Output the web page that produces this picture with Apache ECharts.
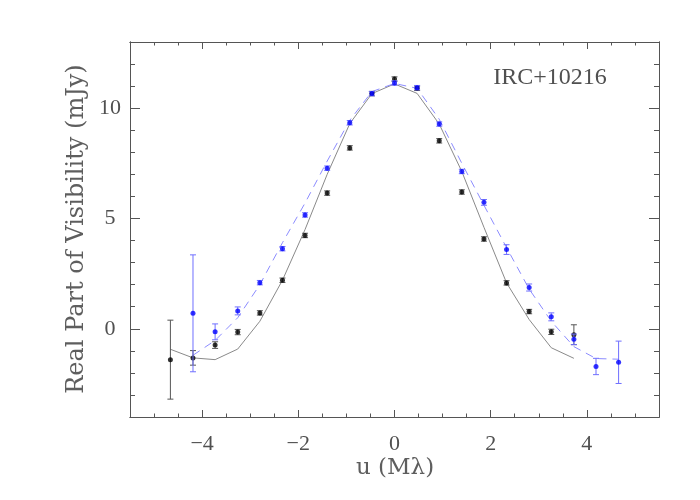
<!DOCTYPE html>
<html><head><meta charset="utf-8">
<script src="https://cdn.jsdelivr.net/npm/echarts@6/dist/echarts.min.js"></script>
<style>html,body{margin:0;padding:0;background:#fff}#c{width:700px;height:500px}</style>
</head><body><div id="c"></div>
<script>
// ---- data ----
const uBlack = [-4.66,-4.19,-3.73,-3.26,-2.80,-2.33,-1.86,-1.40,-0.93,-0.47,0,0.47,0.93,1.40,1.86,2.33,2.80,3.26,3.73];
const vBlack = [-1.40,-1.32,-0.74,-0.15,0.72,2.20,4.23,6.15,8.20,10.66,11.32,10.90,8.52,6.20,4.07,2.08,0.78,-0.14,-0.27];
const eBlack = [1.79,0.33,0.15,0.12,0.10,0.10,0.10,0.10,0.10,0.10,0.10,0.10,0.10,0.10,0.10,0.10,0.10,0.12,0.45];

const uBlue = [-4.19,-3.73,-3.26,-2.80,-2.33,-1.86,-1.40,-0.93,-0.47,0,0.47,0.93,1.40,1.86,2.33,2.80,3.26,3.73,4.19,4.66];
const vBlue = [0.70,-0.14,0.81,2.09,3.63,5.16,7.28,9.34,10.66,11.14,10.93,9.28,7.13,5.73,3.59,1.87,0.54,-0.48,-1.71,-1.52];
const eBlue = [2.65,0.36,0.18,0.10,0.10,0.10,0.10,0.10,0.10,0.10,0.10,0.10,0.10,0.13,0.22,0.16,0.18,0.24,0.37,0.96];

const uModelSolid = [-4.66,-4.19,-3.73,-3.26,-2.80,-2.33,-1.86,-1.40,-0.93,-0.47,0,0.47,0.93,1.40,1.86,2.33,2.80,3.26,3.73];
const vModelSolid = [-0.93,-1.32,-1.40,-0.92,0.34,2.20,4.50,7.00,9.30,10.66,11.10,10.67,9.28,7.13,4.60,2.08,0.42,-0.86,-1.34];

const uModelDash = [-4.19,-3.73,-3.26,-2.80,-2.33,-1.86,-1.40,-0.93,-0.47,0,0.47,0.93,1.40,1.86,2.33,2.80,3.26,3.73,4.19,4.66];
const vModelDash = [-1.20,-0.53,0.50,2.00,3.90,5.70,7.60,9.45,10.75,11.12,10.90,9.50,7.50,5.60,3.68,1.80,0.34,-0.81,-1.35,-1.38];

const xMajorTicks = [-4,-2,0,2,4];
const xMinorTicks = [-5,-4.5,-3.5,-3,-2.5,-1.5,-1,-0.5,0.5,1,1.5,2.5,3,3.5,4.5,5];
const yMajorTicks = [0,5,10];
const yMinorTicks = [-3,-2,-1,1,2,3,4,6,7,8,9,11,12];
const sourceLabel = 'IRC+10216';
const xTitle = 'u (M\u03bb)';
const yTitle = 'Real Part of Visibility (mJy)';

// ---- chart ----
const TICKFONT = '"Liberation Serif", serif';
const TITLEFONT = '"DejaVu Serif", serif';
const TXT = '#505050';
const TITLECOL = '#5e5e5e';
const AX = '#555';
const fmt = v => v < 0 ? '\u2212' + Math.abs(v) : String(v);
function pair(arrU, arrV){ return arrU.map((u,i)=>[u, arrV[i]]); }
function errData(arrU, arrV, arrE){ return arrU.map((u,i)=>[u, arrV[i]-arrE[i], arrV[i]+arrE[i]]); }
function errRender(color){
  return function(params, api){
    const x = api.value(0);
    const lo = api.coord([x, api.value(1)]);
    const hi = api.coord([x, api.value(2)]);
    const w = 3;
    const st = {stroke: color, lineWidth: 1};
    return {type:'group', children:[
      {type:'line', shape:{x1:lo[0],y1:lo[1],x2:hi[0],y2:hi[1]}, style:st},
      {type:'line', shape:{x1:lo[0]-w,y1:lo[1],x2:lo[0]+w,y2:lo[1]}, style:st},
      {type:'line', shape:{x1:hi[0]-w,y1:hi[1],x2:hi[0]+w,y2:hi[1]}, style:st}
    ]};
  };
}
function xAx(pos, ticks, len, labels){
  return {type:'value', min:-5.5, max:5.5, position:pos,
    axisLine:{show:true, onZero:false, lineStyle:{color:AX, width:1}},
    axisTick:{show:true, inside:true, length:len, customValues:ticks, lineStyle:{color:AX}},
    axisLabel: labels ? {show:true, customValues:ticks, formatter:fmt, color:TXT, fontSize:22, fontFamily:TICKFONT, margin:16} : {show:false},
    splitLine:{show:false}};
}
function yAx(pos, ticks, len, labels){
  return {type:'value', min:-4, max:13, position:pos,
    axisLine:{show:true, onZero:false, lineStyle:{color:AX, width:1}},
    axisTick:{show:true, inside:true, length:len, customValues:ticks, lineStyle:{color:AX}},
    axisLabel: labels ? {show:true, customValues:ticks, formatter:fmt, color:TXT, fontSize:22, fontFamily:TICKFONT, margin:20, align:'center'} : {show:false},
    splitLine:{show:false}};
}
const chart = echarts.init(document.getElementById('c'), null, {renderer:'canvas'});
chart.setOption({
  animation:false,
  backgroundColor:'#fff',
  grid:{left:130, right:41, top:42, bottom:83, containLabel:false},
  xAxis:[ xAx('bottom', xMajorTicks, 7, true), xAx('bottom', xMinorTicks, 3.5, false),
          xAx('top', xMajorTicks, 7, false), xAx('top', xMinorTicks, 3.5, false) ],
  yAxis:[ yAx('left', yMajorTicks, 10, true), yAx('left', yMinorTicks, 5, false),
          yAx('right', yMajorTicks, 10, false), yAx('right', yMinorTicks, 5, false) ],
  graphic:[
    {type:'text', x:550, y:78, style:{text:sourceLabel, fill:TXT, font:'24px '+TICKFONT, textAlign:'center', textVerticalAlign:'middle'}},
    {type:'text', x:395, y:468, style:{text:xTitle, fill:TITLECOL, font:'23px '+TITLEFONT, textAlign:'center', textVerticalAlign:'middle'}},
    {type:'text', x:77, y:229, rotation:Math.PI/2, style:{text:yTitle, fill:TITLECOL, font:'24px '+TITLEFONT, textAlign:'center', textVerticalAlign:'middle'}}
  ],
  series:[
    {type:'line', data:pair(uModelSolid, vModelSolid), showSymbol:false, symbol:'none',
     lineStyle:{color:'#8a8a8a', width:1}, z:2},
    {type:'line', data:pair(uModelDash, vModelDash), showSymbol:false, symbol:'none',
     lineStyle:{color:'#8c8cff', width:1, type:[8,6]}, z:2},
    {type:'custom', data:errData(uBlack, vBlack, eBlack), renderItem:errRender('#555'), z:3},
    {type:'scatter', data:pair(uBlack, vBlack), symbol:'circle', symbolSize:5, itemStyle:{color:'#000'}, z:4},
    {type:'custom', data:errData(uBlue, vBlue, eBlue), renderItem:errRender('#6f6fff'), z:5},
    {type:'scatter', data:pair(uBlue, vBlue), symbol:'circle', symbolSize:5, itemStyle:{color:'#0000ff'}, z:6}
  ]
});
</script></body></html>
